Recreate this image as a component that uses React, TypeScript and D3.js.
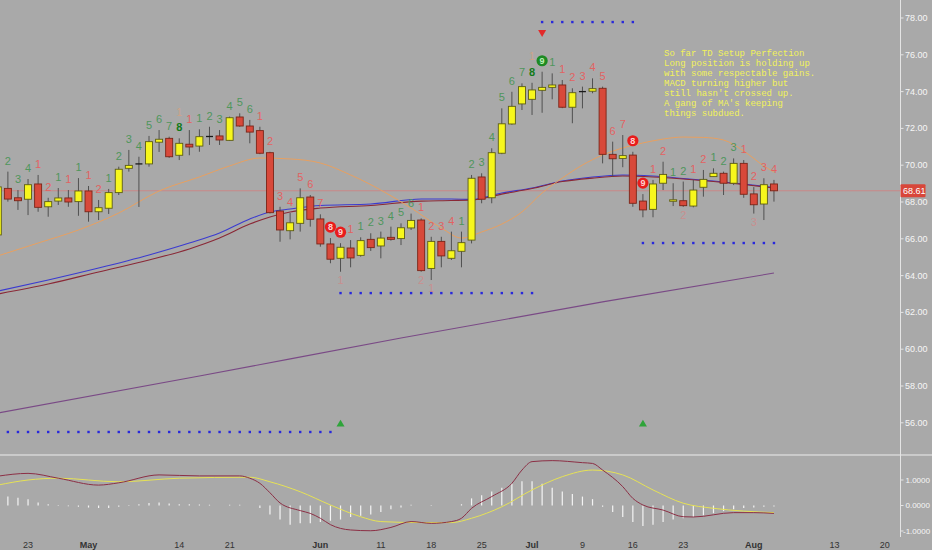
import React from "react";
import * as d3 from "d3";

const W = 932;
const H = 550;

// Daily OHLC, one entry per bar (bar 0 = Apr 18)
const opens = [66.21, 68.74, 68.23, 68.15, 68.98, 67.74, 68.05, 68.22, 68.02, 68.6, 67.47, 67.66, 68.51, 69.83, 70.07, 70.07, 71.25, 71.46, 70.54, 71.14, 71.04, 71.53, 71.59, 71.35, 72.62, 72.13, 71.88, 70.68, 67.51, 66.44, 66.84, 68.27, 67.08, 65.72, 64.94, 65.5, 65.1, 65.97, 65.61, 66.08, 66.01, 66.59, 67.02, 64.39, 65.86, 64.94, 65.32, 65.93, 69.36, 68.23, 70.65, 72.24, 73.33, 73.58, 74.07, 74.23, 74.36, 73.15, 73.98, 74.02, 74.18, 70.59, 70.37, 70.55, 68.05, 67.6, 69.02, 68.04, 68.07, 67.78, 68.8, 69.38, 69.56, 69.02, 70.1, 68.44, 67.89, 68.98];
const highs = [68.95, 69.65, 68.65, 69.25, 69.47, 68.23, 68.76, 68.65, 69.3, 68.87, 68.11, 68.71, 69.92, 70.83, 70.46, 71.59, 71.91, 71.55, 71.46, 71.91, 71.95, 72.09, 71.91, 72.64, 72.82, 72.46, 72.09, 70.73, 67.74, 67.4, 68.74, 68.38, 67.33, 66.04, 65.76, 65.93, 66.08, 66.3, 66.39, 66.66, 66.84, 67.37, 67.11, 66.11, 66.11, 66.39, 66.39, 69.47, 69.56, 70.92, 73.09, 73.99, 74.45, 74.48, 75.08, 74.99, 74.63, 74.18, 74.27, 74.72, 74.27, 71.28, 71.64, 70.73, 68.43, 69.2, 70.19, 69.02, 69.11, 69.2, 69.74, 69.83, 69.65, 70.37, 70.28, 68.81, 69.29, 69.2];
const lows = [66.1, 68.02, 67.57, 67.29, 67.47, 67.2, 67.84, 67.74, 67.25, 66.93, 67.02, 67.35, 68.38, 69.65, 67.73, 69.92, 70.72, 70.4, 70.28, 70.54, 70.73, 71.1, 71.1, 71.32, 72.09, 71.19, 70.6, 67.38, 65.84, 65.97, 66.39, 66.66, 65.57, 64.67, 64.21, 64.45, 65.03, 65.34, 64.94, 65.9, 65.66, 66.48, 64.21, 63.76, 64.45, 64.85, 64.45, 65.75, 67.93, 67.93, 70.6, 72.2, 73.0, 72.73, 72.85, 73.58, 73.1, 72.28, 73.09, 73.91, 70.1, 69.38, 69.89, 67.74, 67.17, 67.17, 68.65, 67.78, 67.74, 67.71, 68.29, 69.38, 68.38, 68.92, 68.23, 67.37, 67.02, 68.02];
const closes = [68.82, 68.16, 68.07, 68.94, 67.71, 68.02, 68.22, 68.0, 68.6, 67.47, 67.69, 68.51, 69.78, 69.99, 70.07, 71.28, 71.41, 70.46, 71.19, 70.99, 71.55, 71.56, 71.37, 72.58, 72.13, 71.8, 70.65, 67.42, 66.48, 66.87, 68.23, 67.06, 65.72, 64.89, 65.54, 64.96, 65.9, 65.52, 66.04, 65.97, 66.6, 67.0, 64.27, 65.86, 65.07, 65.35, 65.79, 69.29, 68.15, 70.68, 72.25, 73.2, 74.27, 74.09, 74.23, 74.36, 73.15, 73.94, 74.0, 74.16, 70.59, 70.35, 70.52, 67.93, 67.57, 68.98, 69.5, 68.12, 67.8, 68.65, 69.23, 69.56, 69.02, 70.1, 68.42, 67.85, 68.94, 68.61];

// TD setup counts above bars; G = sell setup (green), R = buy setup (red)
const setupNums = [0, 2, 3, 4, 1, 2, 1, 1, 1, 1, 2, 1, 2, 3, 4, 5, 6, 7, 8, 1, 1, 2, 3, 4, 5, 6, 1, 2, 3, 4, 5, 6, 7, 8, 9, 1, 1, 2, 3, 4, 5, 6, 1, 2, 3, 4, 1, 2, 3, 4, 5, 6, 7, 8, 9, 1, 1, 2, 3, 4, 5, 6, 7, 8, 9, 1, 2, 1, 2, 1, 2, 1, 2, 3, 1, 2, 3, 4];
const setupSides = "-GGGRRGRGRRGGGGGGGGRGGGGGGRRRRRRRRRRGGGGGGRRRRGGGGGGGGGGRRRRRRRRRRRGGRRGGGRRRR";

// TD countdown marks below bars
const countdownBars = [34, 42, 43, 68, 75];
const countdownText = ["1", "2", "1", "2", "3"];
// faint marks above the 8 counts
const faintMarkBars = [18, 53];

// TDST levels (dotted)
const tdstLevels = [55.5, 63.05, 77.78, 65.77];
const tdstStart = [0, 34, 54, 64];
const tdstEnd = [33, 53, 63, 77];

// setup-completion arrows
const buyArrowBars = [34, 64];
const sellArrowBars = [54];

// moving averages (bar index, value)
const orangeIdx = [0, 4, 8, 12, 16, 20, 23, 26, 29, 32, 35, 38, 41, 44, 46, 48, 50, 52, 54, 56, 58, 60, 62, 64, 66, 68, 70, 72, 74, 76, 77];
const orangeVals = [65.07, 65.77, 66.48, 67.4, 68.6, 69.36, 69.96, 70.39, 70.34, 70.12, 69.47, 68.65, 67.67, 66.59, 66.04, 66.37, 66.8, 67.46, 68.49, 69.3, 70.01, 70.55, 70.94, 71.21, 71.42, 71.53, 71.51, 71.37, 70.77, 69.96, 69.63];
const midIdx = [0, 5, 10, 15, 19, 22, 25, 27, 29, 32, 37, 42, 45, 47, 50, 53, 56, 59, 62, 65, 68, 71, 74, 77];
const blueVals = [63.16, 63.76, 64.41, 65.12, 65.77, 66.32, 67.08, 67.46, 67.62, 67.81, 67.89, 68.16, 68.16, 68.14, 68.49, 68.76, 69.14, 69.36, 69.47, 69.41, 69.28, 69.14, 68.98, 68.79];
const maroonVals = [63.0, 63.54, 64.2, 64.85, 65.45, 66.04, 66.8, 67.19, 67.46, 67.67, 67.81, 68.05, 68.08, 68.11, 68.43, 68.73, 69.11, 69.3, 69.41, 69.36, 69.25, 69.11, 68.95, 68.76];
const longIdx = [0, 20, 40, 60, 77];
const longVals = [56.53, 58.54, 60.61, 62.57, 64.14];

// MACD pane
const macdIdx = [0, 3, 6, 10, 12, 16, 20, 24, 25, 26, 27, 28, 30, 31, 32, 33, 35, 37, 39, 41, 43, 45, 46, 47, 49, 51, 52, 53, 55, 58, 59, 60, 62, 63, 64, 66, 68, 69, 73, 75, 77];
const macdVals = [1.15, 1.26, 1.07, 0.8, 0.89, 1.2, 1.16, 1.16, 1.07, 0.87, 0.5, 0.1, -0.2, -0.31, -0.5, -0.75, -0.96, -0.99, -0.86, -0.63, -0.7, -0.63, -0.5, -0.11, 0.35, 0.87, 1.39, 1.72, 1.76, 1.68, 1.65, 1.39, 0.74, 0.28, 0.02, -0.18, -0.44, -0.45, -0.28, -0.28, -0.31];
const signalIdx = [0, 3, 6, 12, 18, 25, 27, 30, 33, 36, 38, 42, 45, 47, 50, 53, 56, 59, 62, 65, 68, 71, 74, 77];
const signalVals = [0.8, 1.0, 1.07, 0.93, 1.07, 1.11, 0.93, 0.54, 0.02, -0.44, -0.63, -0.67, -0.67, -0.5, -0.05, 0.61, 1.13, 1.39, 1.2, 0.61, 0.09, -0.11, -0.22, -0.28];
const histVals = [0.35, 0.35, 0.3, 0.25, 0.12, 0.05, 0.02, -0.03, -0.05, -0.08, -0.1, -0.1, -0.05, 0.02, 0.05, 0.1, 0.12, 0.08, 0.05, 0.05, 0.04, 0.03, 0.0, 0.03, 0.03, 0.0, -0.1, -0.35, -0.55, -0.75, -0.7, -0.7, -0.65, -0.6, -0.55, -0.45, -0.4, -0.35, -0.25, -0.15, -0.08, 0.03, 0.0, -0.02, 0.0, 0.0, 0.05, 0.28, 0.4, 0.55, 0.7, 0.85, 0.95, 0.95, 0.85, 0.7, 0.55, 0.45, 0.35, 0.25, -0.05, -0.25, -0.45, -0.65, -0.8, -0.75, -0.65, -0.55, -0.5, -0.45, -0.38, -0.3, -0.22, -0.15, -0.1, -0.08, -0.05, -0.04];

// axes
const priceTicks = [56, 58, 60, 62, 64, 66, 68, 70, 72, 74, 76, 78];
const macdTicks = [1, 0, -1];
const dateTickBars = [3, 9, 18, 23, 32, 38, 43, 48, 53, 58, 63, 68, 75, 83, 88];
const dateTickLabels = ["23", "May", "14", "21", "Jun", "11", "18", "25", "Jul", "9", "16", "23", "Aug", "13", "20"];

const noteLines = [
  "So far TD Setup Perfection",
  "Long position is holding up",
  "with some respectable gains.",
  "MACD turning higher but",
  "still hasn't crossed up.",
  "A gang of MA's keeping",
  "things subdued.",
];

const BG = "#a9a9a9";
const UP_FILL = "#f7f71c";
const UP_STROKE = "#5c5c16";
const DN_FILL = "#d8493a";
const DN_STROKE = "#7a2518";
const LBL_G = "#4f965c";
const LBL_R = "#e26262";
const SANS = "'Liberation Sans', Arial, sans-serif";

export default function App() {
  const x = d3.scaleLinear().domain([0, 88]).range([-2.2, -2.2 + 88 * 10.08]);
  const y = d3.scaleLinear().domain([56, 78]).range([422.8, 18]);
  const ym = d3.scaleLinear().domain([-1, 1]).range([531, 480]);
  const bodyW = 7;
  const axisX = 900.5;

  const pairLine = (idx: number[], vals: number[], scale: d3.ScaleLinear<number, number>) =>
    d3
      .line<number>()
      .x((_, i) => x(idx[i]))
      .y((v) => scale(v))
      .curve(d3.curveMonotoneX)(vals) || "";

  const lastClose = closes[closes.length - 1];
  const triUp = d3.symbol(d3.symbolTriangle, 28)() || "";

  return (
    <svg
      width={W}
      height={H}
      style={{ position: "fixed", left: 0, top: 0, display: "block" }}
      fontFamily={SANS}
    >
      <rect x={0} y={0} width={W} height={H} fill={BG} />

      {/* long moving average */}
      <path d={pairLine(longIdx, longVals, y)} fill="none" stroke="#7a4a86" strokeWidth={1.1} />

      {/* last price line */}
      <line x1={0} x2={axisX} y1={y(lastClose)} y2={y(lastClose)} stroke="#d77" strokeWidth={0.8} opacity={0.8} />

      {/* mid-term averages */}
      <path d={pairLine(midIdx, blueVals, y)} fill="none" stroke="#3b3bd0" strokeWidth={1.1} />
      <path d={pairLine(midIdx, maroonVals, y)} fill="none" stroke="#8a2836" strokeWidth={1.1} />
      <path d={pairLine(orangeIdx, orangeVals, y)} fill="none" stroke="#e8a060" strokeWidth={1} />

      {/* candles */}
      {opens.map((o, i) => {
        const c = closes[i];
        const up = c >= o;
        const cx = x(i);
        const top = y(Math.max(o, c));
        const bot = y(Math.min(o, c));
        const doji = Math.abs(bot - top) < 1.2;
        return (
          <g key={"c" + i}>
            <line x1={cx} x2={cx} y1={y(highs[i])} y2={y(lows[i])} stroke="#505050" strokeWidth={1} />
            {doji ? (
              <line x1={cx - bodyW / 2} x2={cx + bodyW / 2} y1={top} y2={top} stroke="#1a1a1a" strokeWidth={1.3} />
            ) : (
              <rect
                x={cx - bodyW / 2}
                y={top}
                width={bodyW}
                height={bot - top}
                fill={up ? UP_FILL : DN_FILL}
                stroke={up ? UP_STROKE : DN_STROKE}
                strokeWidth={0.9}
              />
            )}
          </g>
        );
      })}

      {/* setup counts */}
      {setupNums.map((n, i) => {
        if (!n) return null;
        const side = setupSides[i];
        const cx = x(i);
        const cy = y(highs[i]) - 11;
        const circled = (side === "R" && n >= 8) || (side === "G" && n === 9);
        if (circled) {
          return (
            <g key={"s" + i}>
              <circle cx={cx} cy={cy} r={5.6} fill={side === "R" ? "#e81c1c" : "#1d8a24"} />
              <text x={cx} y={cy} textAnchor="middle" dominantBaseline="central" fontSize={9} fontWeight="bold" fill={side === "R" ? "#ffd0d0" : "#b8f0b8"}>
                {n}
              </text>
            </g>
          );
        }
        const strong = side === "G" && n === 8;
        return (
          <text
            key={"s" + i}
            x={cx}
            y={cy}
            textAnchor="middle"
            dominantBaseline="central"
            fontSize={11}
            fontWeight={strong ? "bold" : "normal"}
            fill={strong ? "#127a18" : side === "G" ? LBL_G : LBL_R}
          >
            {n}
          </text>
        );
      })}

      {faintMarkBars.map((b) => (
        <text key={"f" + b} x={x(b)} y={y(highs[b]) - 26} textAnchor="middle" dominantBaseline="central" fontSize={10} fill="#e8a070" opacity={0.6}>
          1
        </text>
      ))}

      {countdownBars.map((b, k) => (
        <text key={"cd" + b} x={x(b)} y={y(lows[b]) + 8} textAnchor="middle" dominantBaseline="central" fontSize={11} fill="#d08a8a" opacity={0.8}>
          {countdownText[k]}
        </text>
      ))}

      {/* TDST dotted levels */}
      {tdstLevels.map((lv, k) =>
        d3.range(tdstStart[k], tdstEnd[k] + 1).map((b) => (
          <rect key={"d" + k + "-" + b} x={x(b) - 1.2} y={y(lv) - 1.2} width={2.4} height={2.4} fill="#2828dc" />
        ))
      )}

      {buyArrowBars.map((b) => (
        <path key={"ba" + b} d={triUp} transform={`translate(${x(b)},${y(55.92)})`} fill="#2fa43a" />
      ))}
      {sellArrowBars.map((b) => (
        <path key={"sa" + b} d={triUp} transform={`translate(${x(b)},${y(77.22)}) rotate(180)`} fill="#e22a2a" />
      ))}

      {/* note */}
      <g fontFamily="'Liberation Mono', 'DejaVu Sans Mono', monospace" fontSize={9} fill="#f2f25a">
        {noteLines.map((t, i) => (
          <text key={"n" + i} x={664} y={56 + i * 10} xmlSpace="preserve">
            {t}
          </text>
        ))}
      </g>

      {/* MACD pane */}
      {histVals.map((v, i) => (
        <line key={"h" + i} x1={x(i)} x2={x(i)} y1={ym(0)} y2={ym(v)} stroke="#f4f4f4" strokeWidth={1.2} />
      ))}
      <path d={pairLine(signalIdx, signalVals, ym)} fill="none" stroke="#e6e255" strokeWidth={1} />
      <path d={pairLine(macdIdx, macdVals, ym)} fill="none" stroke="#8c2f45" strokeWidth={1} />

      {/* pane separator and axes */}
      <line x1={0} x2={W} y1={455} y2={455} stroke="#ececec" strokeWidth={1} />
      <line x1={axisX} x2={axisX} y1={0} y2={537} stroke="#e4e4e4" strokeWidth={1} />

      {priceTicks.map((t) => (
        <g key={"pt" + t}>
          <line x1={axisX} x2={axisX + 3} y1={y(t)} y2={y(t)} stroke="#e4e4e4" />
          <text x={905} y={y(t)} dominantBaseline="central" fontSize={9} fill="#f6f6f6">
            {t.toFixed(2)}
          </text>
        </g>
      ))}

      <rect x={axisX} y={y(lastClose) - 6.5} width={25} height={13} fill="#d8463a" rx={1} />
      <text x={903} y={y(lastClose)} dominantBaseline="central" fontSize={9} fill="#ffffff">
        {lastClose.toFixed(2)}
      </text>

      {macdTicks.map((t) => (
        <g key={"mt" + t}>
          <line x1={axisX} x2={axisX + 3} y1={ym(t)} y2={ym(t)} stroke="#e4e4e4" />
          <text x={t < 0 ? 903 : 905.5} y={ym(t)} dominantBaseline="central" fontSize={8} fill="#f6f6f6">
            {t.toFixed(4)}
          </text>
        </g>
      ))}

      {dateTickBars.map((b, k) => (
        <text key={"dt" + k} x={x(b)} y={545} textAnchor="middle" dominantBaseline="central" fontSize={9} fill="#333" fontWeight={/^[A-Z]/.test(dateTickLabels[k]) ? "bold" : "normal"}>
          {dateTickLabels[k]}
        </text>
      ))}
    </svg>
  );
}
